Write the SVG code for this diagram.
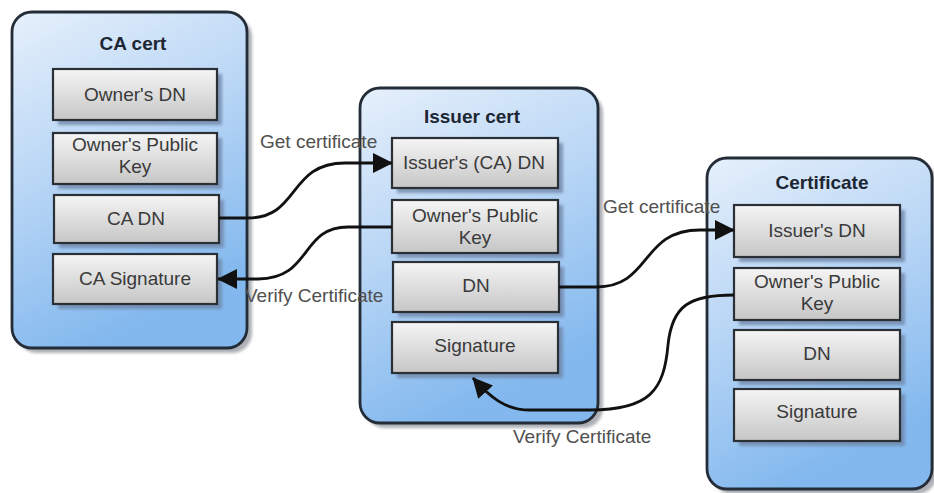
<svg xmlns="http://www.w3.org/2000/svg" width="934" height="493" viewBox="0 0 934 493">
<defs>
<linearGradient id="gCont" x1="0" y1="0" x2="0.35" y2="1">
<stop offset="0" stop-color="#e6f0fb"/>
<stop offset="0.5" stop-color="#b7d5f5"/>
<stop offset="1" stop-color="#82b8ee"/>
</linearGradient>
<linearGradient id="gBox" x1="0" y1="0" x2="0" y2="1">
<stop offset="0" stop-color="#f5f5f5"/>
<stop offset="1" stop-color="#c6c6c6"/>
</linearGradient>
<filter id="blur" x="-10%" y="-10%" width="120%" height="120%">
<feGaussianBlur stdDeviation="1.5"/>
</filter>
<marker id="arrow" viewBox="0 0 20 20" refX="19" refY="10" markerWidth="20" markerHeight="20" markerUnits="userSpaceOnUse" orient="auto">
<path d="M0,0 L20,10 L0,20 Z" fill="#111"/>
</marker>
</defs>
<style>
.cshadow{fill:#8a8f96;opacity:0.7;filter:url(#blur)}
.cont{fill:url(#gCont);stroke:#232c37;stroke-width:2.8}
.bshadow{fill:#6f86a8;opacity:0.8;filter:url(#blur)}
.box{fill:url(#gBox);stroke:#2b3036;stroke-width:2.2}
.title{font-family:"Liberation Sans",Arial,sans-serif;font-size:19px;font-weight:bold;fill:#1d2633;text-anchor:middle}
.txt{font-family:"Liberation Sans",Arial,sans-serif;font-size:19px;fill:#3a3a3a;text-anchor:middle}
.lbl{font-family:"Liberation Sans",Arial,sans-serif;font-size:19px;fill:#505050}
.conn{fill:none;stroke:#111;stroke-width:2.8;marker-end:url(#arrow)}
</style>
<rect width="934" height="493" fill="#ffffff"/>

<g id="ca-cert">
<rect class="cshadow" x="17" y="17" width="235" height="336" rx="20"/>
<rect class="cont" x="12" y="12" width="235" height="336" rx="20"/>
<text class="title" x="133" y="50">CA cert</text>
<g id="ca-owner-dn">
<rect class="bshadow" x="58" y="74" width="164" height="51"/>
<rect class="box" x="53" y="69" width="164" height="51"/>
<text class="txt" x="135" y="101">Owner's DN</text>
</g>
<g id="ca-owner-key">
<rect class="bshadow" x="58" y="138" width="164" height="51"/>
<rect class="box" x="53" y="133" width="164" height="51"/>
<text class="txt" x="135" y="151">Owner's Public</text>
<text class="txt" x="135" y="173">Key</text>
</g>
<g id="ca-ca-dn">
<rect class="bshadow" x="59" y="200" width="165" height="48"/>
<rect class="box" x="54" y="195" width="165" height="48"/>
<text class="txt" x="136" y="225">CA DN</text>
</g>
<g id="ca-signature">
<rect class="bshadow" x="58" y="259" width="164" height="50"/>
<rect class="box" x="53" y="254" width="164" height="50"/>
<text class="txt" x="135" y="285">CA Signature</text>
</g>
</g>

<g id="issuer-cert">
<rect class="cshadow" x="365" y="93" width="238" height="335" rx="20"/>
<rect class="cont" x="360" y="88" width="238" height="335" rx="20"/>
<text class="title" x="472" y="123">Issuer cert</text>
<g id="issuer-issuer-dn">
<rect class="bshadow" x="397" y="143" width="166" height="50"/>
<rect class="box" x="392" y="138" width="166" height="50"/>
<text class="txt" x="474" y="169">Issuer's (CA) DN</text>
</g>
<g id="issuer-owner-key">
<rect class="bshadow" x="397" y="205" width="166" height="53"/>
<rect class="box" x="392" y="200" width="166" height="53"/>
<text class="txt" x="475" y="222">Owner's Public</text>
<text class="txt" x="475" y="244">Key</text>
</g>
<g id="issuer-dn">
<rect class="bshadow" x="398" y="267" width="166" height="50"/>
<rect class="box" x="393" y="262" width="166" height="50"/>
<text class="txt" x="476" y="292">DN</text>
</g>
<g id="issuer-signature">
<rect class="bshadow" x="397" y="327" width="166" height="51"/>
<rect class="box" x="392" y="322" width="166" height="51"/>
<text class="txt" x="475" y="352">Signature</text>
</g>
</g>

<g id="certificate">
<rect class="cshadow" x="712" y="163" width="225" height="331" rx="20"/>
<rect class="cont" x="707" y="158" width="225" height="331" rx="20"/>
<text class="title" x="822" y="189">Certificate</text>
<g id="cert-issuer-dn">
<rect class="bshadow" x="739" y="210" width="166" height="52"/>
<rect class="box" x="734" y="205" width="166" height="52"/>
<text class="txt" x="817" y="237">Issuer's DN</text>
</g>
<g id="cert-owner-key">
<rect class="bshadow" x="739" y="273" width="166" height="52"/>
<rect class="box" x="734" y="268" width="166" height="52"/>
<text class="txt" x="817" y="288">Owner's Public</text>
<text class="txt" x="817" y="310">Key</text>
</g>
<g id="cert-dn">
<rect class="bshadow" x="739" y="335" width="166" height="50"/>
<rect class="box" x="734" y="330" width="166" height="50"/>
<text class="txt" x="817" y="360">DN</text>
</g>
<g id="cert-signature">
<rect class="bshadow" x="739" y="394" width="166" height="52"/>
<rect class="box" x="734" y="389" width="166" height="52"/>
<text class="txt" x="817" y="418">Signature</text>
</g>
</g>

<g id="connectors">
<path class="conn" d="M219 218 L248 218 C300 218 288 163 345 163 L392 163"/>
<path class="conn" d="M392 227 L348 227 C300 227 312 279 258 279 L218 279"/>
<path class="conn" d="M559 287 L596 287 C652 287 640 230 700 230 L734 230"/>
<path class="conn" d="M734 295 C690 295 672 305 668 345 C664 390 650 410 590 410 L530 410 C505 410 490 397 473 378"/>
<text class="lbl" x="260" y="148">Get certificate</text>
<text class="lbl" x="245" y="302">Verify Certificate</text>
<text class="lbl" x="603" y="213">Get certificate</text>
<text class="lbl" x="513" y="443">Verify Certificate</text>
</g>
</svg>
